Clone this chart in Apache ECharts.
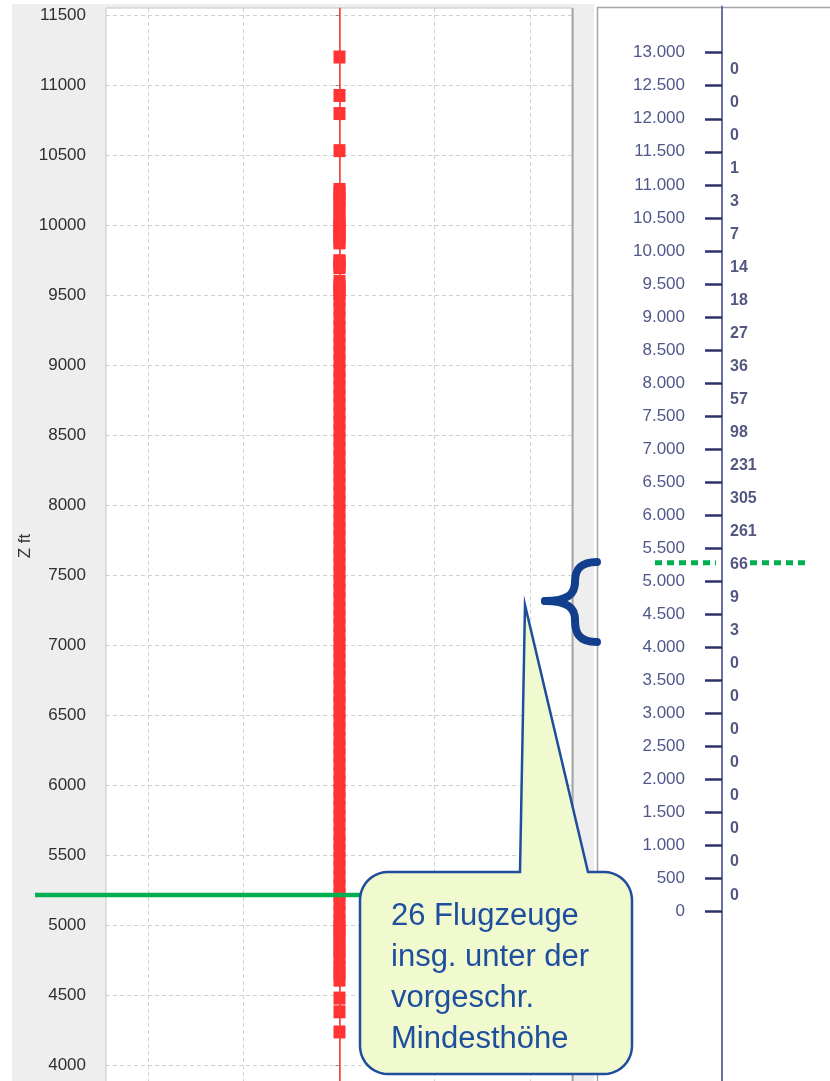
<!DOCTYPE html>
<html><head><meta charset="utf-8">
<script src="https://cdn.jsdelivr.net/npm/echarts@6/dist/echarts.min.js"></script>
<style>html,body{margin:0;padding:0;background:#fff}#c{width:830px;height:1081px}</style>
</head><body><div id="c"></div>
<script>
// ---- data ----
const leftTicks = [4000,4500,5000,5500,6000,6500,7000,7500,8000,8500,9000,9500,10000,10500,11000,11500];
const altitudes = [
  4236,4380,4478,
  4606,4655,4700,4760,4810,4850,4905,4950,4985,
  5030,5090,5150,5215,5280,5340,5410,5470,
  5530,5590,5650,5720,5780,5840,5905,5960,
  6020,6080,6150,6210,6270,6330,6400,6460,
  6520,6585,6640,6700,6770,6830,6890,6955,
  7010,7075,7140,7200,7260,7330,7390,7450,
  7520,7580,7645,7700,7770,7830,7890,7960,
  8020,8085,8150,8210,8270,8340,8400,8465,
  8530,8590,8650,8720,8780,8840,8905,8960,
  9025,9085,9150,9210,9270,9335,9400,9460,
  9510,9540,9565,9596,9695,9705,9740,9745,9872,9890,9920,9950,9975,9990,
  10020,10060,10110,10150,10190,10230,10254,
  10531,10796,10925,
  11200
];
const rightTicks = [0,500,1000,1500,2000,2500,3000,3500,4000,4500,5000,5500,6000,6500,7000,7500,8000,8500,9000,9500,10000,10500,11000,11500,12000,12500,13000];
const bandLower = [0,500,1000,1500,2000,2500,3000,3500,4000,4500,5000,5500,6000,6500,7000,7500,8000,8500,9000,9500,10000,10500,11000,11500,12000,12500];
const bandCounts = [0,0,0,0,0,0,0,0,3,9,66,261,305,231,98,57,36,27,18,14,7,3,1,0,0,0];
const bandWidth = 500;
const minAltLeft = 5215;
const minAltRight = 5280;
const calloutLines = ['26 Flugzeuge','insg. unter der','vorgeschr.','Mindesthöhe'];
const yAxisName = 'Z ft';

function de(v){ return String(v).replace(/\B(?=(\d{3})+(?!\d))/g,'.'); }

const chart = echarts.init(document.getElementById('c'), null, {renderer:'canvas'});
const gridDash = {color:'#d0d0d0', width:1, type:[4,3]};
chart.setOption({
  animation:false,
  backgroundColor:'#ffffff',
  grid:[
    {left:106, top:8, width:467, height:1127, outerBoundsMode:'none', show:true, backgroundColor:'#ffffff', borderColor:'#c6c6c6', borderWidth:1},
    {left:148, top:8, width:382, height:1127, outerBoundsMode:'none'},
    {left:722, top:6.45, width:100, height:1103.4, outerBoundsMode:'none'}
  ],
  xAxis:[
    {gridIndex:0, type:'value', min:-2.44, max:2.44, show:false},
    {gridIndex:1, type:'value', min:-2, max:2, interval:1, axisLine:{show:false}, axisTick:{show:false}, axisLabel:{show:false}, splitLine:{show:true, lineStyle:gridDash}},
    {gridIndex:2, type:'value', min:0, max:1, show:false}
  ],
  yAxis:[
    {gridIndex:0, type:'value', min:3500, max:11550, interval:500, offset:8,
     axisLine:{show:true, lineStyle:{color:'#8c8c8c', width:1}},
     axisTick:{show:true, length:4, customValues:leftTicks, lineStyle:{color:'#8c8c8c'}},
     axisLabel:{customValues:leftTicks, formatter:v=>String(v), margin:12, color:'#2e2e2e', fontSize:17, fontFamily:'Liberation Sans'},
     splitLine:{show:true, lineStyle:gridDash}},
    {gridIndex:1, type:'value', min:3500, max:11550, show:false},
    {gridIndex:2, type:'value', min:-3000, max:13700,
     axisLine:{show:true, lineStyle:{color:'#6a70a3', width:2}},
     axisTick:{show:true, length:17, customValues:rightTicks, lineStyle:{color:'#2c326b', width:2.5}},
     axisLabel:{customValues:rightTicks, margin:37, formatter:de, color:'#50578a', fontSize:17, fontFamily:'Liberation Sans'},
     splitLine:{show:false}}
  ],
  series:[
    {type:'scatter', xAxisIndex:0, yAxisIndex:0, symbol:'rect', symbolSize:[12,13], z:3,
     itemStyle:{color:'#ff3333', opacity:1},
     data: altitudes.map(a=>[0,a]),
     markLine:{silent:true, symbol:'none', label:{show:false}, lineStyle:{color:'#ff3b3b', width:1.5, type:'solid'}, data:[{xAxis:0}]}},
    {type:'scatter', xAxisIndex:2, yAxisIndex:2, symbolSize:0, itemStyle:{color:'rgba(0,0,0,0)'},
     data: bandLower.map((b,i)=>[0, b + bandWidth/2, bandCounts[i]]),
     label:{show:true, position:'right', distance:8, formatter:p=>String(p.value[2]), color:'#282d60', fontWeight:'bold', fontSize:16, fontFamily:'Liberation Sans'}}
  ]
});

const yGL = chart.convertToPixel({yAxisIndex:0}, minAltLeft);
const yGR = chart.convertToPixel({yAxisIndex:2}, minAltRight);

function callout(x0,y0,x1,y1,R,pl,pr,ax,ay){
  const pts=[[x0+R,y0],[pl,y0],[ax,ay],[pr,y0],[x1-R,y0]];
  const arc=(cx,cy,a0,a1)=>{for(let k=1;k<=10;k++){const a=(a0+(a1-a0)*k/10)*Math.PI/180;pts.push([cx+R*Math.cos(a),cy+R*Math.sin(a)]);}};
  arc(x1-R,y0+R,-90,0); pts.push([x1,y1-R]);
  arc(x1-R,y1-R,0,90); pts.push([x0+R,y1]);
  arc(x0+R,y1-R,90,180); pts.push([x0,y0+R]);
  arc(x0+R,y0+R,180,270);
  return pts;
}
const brace = [
  [597,562, 578,562, 575,572, 575,582],
  [575,582, 575,594, 568,601, 545,601],
  [545,601, 568,601, 575,608, 575,620],
  [575,620, 575,632, 578,642, 597,642]
];
const gEls = [
  {type:'rect', z:-10, shape:{x:12,y:4,width:582,height:1077}, style:{fill:'#eeeeee'}},
  {type:'rect', z:-10, shape:{x:597.5,y:7.5,width:240,height:1080}, style:{fill:'#ffffff', stroke:'#a5a5a5', lineWidth:1.5}},
  {type:'line', z:5, shape:{x1:572.5,y1:8,x2:572.5,y2:1081}, style:{stroke:'#a6a6a6', lineWidth:2}},
  {type:'text', z:10, x:25, y:546, rotation:Math.PI/2, style:{text:yAxisName, fontSize:17, fontFamily:'Liberation Sans', fill:'#333', align:'center', verticalAlign:'middle'}},
  {type:'line', z:50, shape:{x1:35,y1:yGL,x2:420,y2:yGL}, style:{stroke:'#00b050', lineWidth:4.5}},
  {type:'line', z:50, shape:{x1:655,y1:yGR,x2:716,y2:yGR}, style:{stroke:'#00b050', lineWidth:5, lineDash:[7,5]}},
  {type:'line', z:50, shape:{x1:750,y1:yGR,x2:810,y2:yGR}, style:{stroke:'#00b050', lineWidth:5, lineDash:[7,5]}},
  {type:'polygon', z:100, shape:{points:callout(360,872,632,1074,28,520,588,525,605)}, style:{fill:'#f1f9cf', stroke:'#1f4e9c', lineWidth:2.5}},
  {type:'text', z:101, x:391, y:896, style:{text:calloutLines.join('\n'), fontSize:31, fontFamily:'Liberation Sans', fill:'#1d4f9e', lineHeight:41, verticalAlign:'top'}}
];
brace.forEach(b=>gEls.push({type:'bezierCurve', z:60, shape:{x1:b[0],y1:b[1],cpx1:b[2],cpy1:b[3],cpx2:b[4],cpy2:b[5],x2:b[6],y2:b[7]}, style:{stroke:'#123f8c', lineWidth:8, fill:null, lineCap:'round'}}));
chart.setOption({graphic:{elements:gEls}});
</script>
</body></html>
